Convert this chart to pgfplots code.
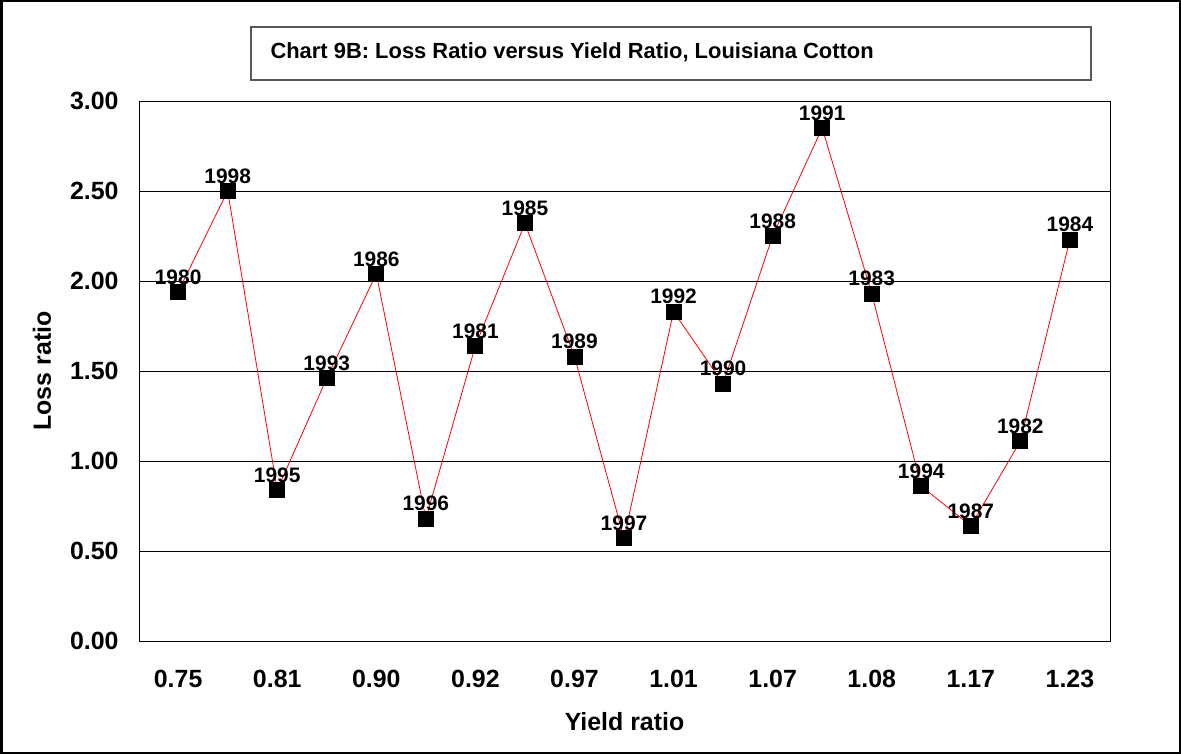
\documentclass[border=0pt]{standalone}
\usepackage{pgfplots}
\pgfplotsset{compat=1.18}
\usepackage{fontspec}
\setmainfont{Liberation Sans}
\begin{document}
\begin{tikzpicture}[x=1bp,y=1bp]
\useasboundingbox (0,0) rectangle (1181,755);
\draw[line width=2bp] (1.5,1.5) rectangle (1179.5,753.5);
\draw[draw=black!65, line width=1.2bp, fill=white] (251,675) rectangle (1091,728);
\node[anchor=west, font=\fontsize{22}{25}\selectfont\bfseries] at (267,703) {Chart 9B: Loss Ratio versus Yield Ratio, Louisiana Cotton};
\begin{axis}[
  at={(139bp,114bp)}, anchor=south west,
  scale only axis, width=971bp, height=540bp,
  xmin=-0.79, xmax=18.81, ymin=0, ymax=3,
  xtick={0,2,4,6,8,10,12,14,16,18},
  xticklabels={0.75,0.81,0.90,0.92,0.97,1.01,1.07,1.08,1.17,1.23},
  ytick={0,0.5,1,1.5,2,2.5,3},
  yticklabel={\pgfmathprintnumber[fixed,fixed zerofill,precision=2]{\tick}},
  /pgf/number format/assume math mode=true,
  major tick length=0pt,
  ymajorgrids, grid style={black, line width=0.8bp},
  axis line style={black, line width=0.9bp},
  tick label style={font=\fontsize{25}{28}\selectfont\bfseries},
  yticklabel style={xshift=-17bp},
  xticklabel style={yshift=-26bp},
  xlabel={Yield ratio}, ylabel={Loss ratio},
  label style={font=\fontsize{25}{28}\selectfont\bfseries},
  xlabel style={at={(axis description cs:0.5,0)}, anchor=center, yshift=-81bp},
  ylabel style={at={(axis description cs:0,0.5)}, anchor=center, rotate=0, yshift=97bp},
  clip=false,
]
\addplot[red, line width=0.8bp, mark=square*, mark options={black, fill=black, solid}, mark size=7.5bp,
  nodes near coords={\pgfplotspointmeta},
  point meta=explicit symbolic,
  every node near coord/.style={font=\fontsize{21}{24}\selectfont\bfseries, black, anchor=south, inner sep=0pt, yshift=7bp},
] table[meta=lab] {
x y lab
0 1.94 1980
1 2.50 1998
2 0.84 1995
3 1.46 1993
4 2.04 1986
5 0.68 1996
6 1.64 1981
7 2.32 1985
8 1.58 1989
9 0.57 1997
10 1.83 1992
11 1.43 1990
12 2.25 1988
13 2.85 1991
14 1.93 1983
15 0.86 1994
16 0.64 1987
17 1.11 1982
18 2.23 1984
};
\end{axis}
\end{tikzpicture}
\end{document}
